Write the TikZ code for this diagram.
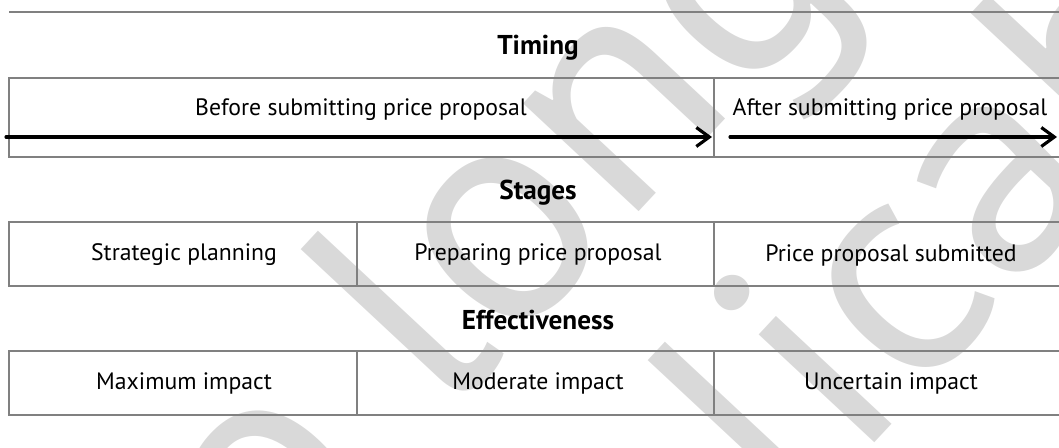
\documentclass[tikz,border=0pt]{standalone}
\usepackage{fontspec}
\setmainfont{PT Sans}
\usetikzlibrary{arrows.meta}
\definecolor{rulegray}{RGB}{128,128,128}
\definecolor{markgray}{RGB}{217,217,217}

\begin{document}
\begin{tikzpicture}[x=0.02cm,y=-0.02cm,font=\fontsize{13.5}{16}\selectfont,
  rule/.style={draw=rulegray,line width=1.1pt},
  timearrow/.style={line width=1.8pt,line cap=round,-{Straight Barb[length=2.6mm,width=3.8mm]}},
  head/.style={font=\fontsize{15.5}{18}\selectfont\bfseries},
  wmark/.style={text=markgray,font=\fontsize{180}{180}\selectfont,inner sep=0pt}]

\useasboundingbox (0,0) rectangle (1059,448);
\clip (0,0) rectangle (1059,448);

% watermark
\node[wmark,rotate=47] (wm1) at (540,205) {no longer};
\node[wmark,rotate=47] (wm2) at (870,330) {applicable};

% timing
\draw[rule] (9,12) -- (1080,12);
\node[head] (timing) at (538,48) {Timing};
\draw[rule] (9,78) rectangle (1066,157);
\draw[rule] (714,78) -- (714,157);
\node (before) at (361,110) {Before submitting price proposal};
\node (after) at (890,110) {After submitting price proposal};
\coordinate (b1) at (6,137);
\coordinate (b2) at (712,137);
\coordinate (a1) at (730,137);
\coordinate (a2) at (1057,137);
\draw[timearrow] (b1) -- (b2);
\draw[timearrow] (a1) -- (a2);

% stages
\node[head] (stages) at (538,193) {Stages};
\draw[rule] (9,222) rectangle (1066,286);
\draw[rule] (357,222) -- (357,286);
\draw[rule] (714,222) -- (714,286);
\node (plan) at (184,255) {Strategic planning};
\node (prep) at (538,255) {Preparing price proposal};
\node (subm) at (891,255) {Price proposal submitted};

% effectiveness
\node[head] (effect) at (538,320) {Effectiveness};
\draw[rule] (9,351) rectangle (1066,415);
\draw[rule] (357,351) -- (357,415);
\draw[rule] (714,351) -- (714,415);
\node (maxi) at (184,383) {Maximum impact};
\node (mode) at (538,383) {Moderate impact};
\node (unce) at (891,383) {Uncertain impact};

\end{tikzpicture}
\end{document}
